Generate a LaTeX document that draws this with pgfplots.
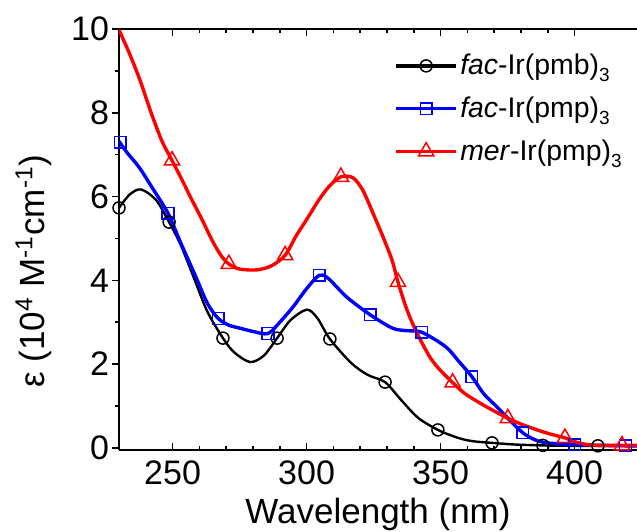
\documentclass[border=0pt]{standalone}
\usepackage{pgfplots}
\pgfplotsset{compat=1.18}
\usepackage{fontspec}
\setmainfont{Liberation Sans}
\newcommand{\sub}[1]{\raisebox{-3.5pt}{\fontsize{9.5}{10}\selectfont #1}}

\pgfplotstableread{
x y
230 5.73
234 6.05
238.2 6.17
243.8 5.92
248.7 5.39
253 4.85
258 4.05
263 3.25
268.8 2.62
273 2.28
278.9 2.05
284 2.2
289 2.62
294 3.05
300.1 3.30
304 3.1
308.7 2.60
316.6 2.03
322.9 1.74
329.3 1.57
335.2 1.15
341.6 0.72
349 0.43
356.5 0.24
362 0.16
369.2 0.12
378 0.08
388.2 0.06
398 0.05
408.7 0.05
423.3 0.05
}\blackline
\pgfplotstableread{
x y
230 5.73
248.7 5.39
268.8 2.62
289 2.62
308.7 2.60
329.3 1.57
349 0.43
369.2 0.12
388.2 0.06
408.7 0.05
}\blackmarks
\pgfplotstableread{
x y
230 7.32
233 7.05
237.5 6.7
242.5 6.2
248.3 5.60
253 4.9
258.7 4.08
263 3.45
267 3.09
271 2.93
275 2.86
280 2.78
285.6 2.73
290 3.0
295 3.37
300 3.8
304.7 4.12
308 4.05
315 3.6
323.7 3.18
332 2.86
337 2.8
343 2.76
352 2.41
357 2.05
361.7 1.70
366 1.3
371 0.98
376 0.65
380.7 0.36
385 0.2
389.7 0.12
400 0.08
410 0.06
419 0.05
423.3 0.05
}\blueline
\pgfplotstableread{
x y
230.4 7.30
248.3 5.60
267 3.09
285.6 2.73
304.7 4.12
323.7 3.18
343 2.76
361.7 1.70
380.7 0.36
400 0.08
419 0.05
}\bluemarks
\pgfplotstableread{
x y
230 9.98
234 9.4
238 8.75
242 8.0
246 7.33
249.8 6.86
253.5 6.4
257.2 5.92
261 5.45
264.7 4.96
268 4.6
271 4.39
275 4.27
281.5 4.25
287 4.35
292 4.6
296 5.05
300 5.45
304.6 5.92
308.5 6.25
312.8 6.47
317.3 6.45
321 6.15
324.8 5.6
328.5 5.04
331.9 4.48
334.1 3.96
337.5 3.29
341.2 2.74
346 2.17
349.8 1.86
354.5 1.56
359 1.3
364.7 1.07
370 0.88
375.1 0.71
380 0.57
386 0.43
391 0.33
396.4 0.24
400 0.15
404.6 0.08
410 0.06
417.7 0.06
423.3 0.06
}\redline
\pgfplotstableread{
x y
249.8 6.86
271 4.39
292 4.6
312.8 6.47
334.1 3.96
354.5 1.56
375.1 0.71
396.4 0.24
417.7 0.06
}\redmarks

\begin{document}
\begin{tikzpicture}
\path[use as bounding box] (0,0) rectangle (318.5pt,265.5pt);
\begin{axis}[
  at={(59.5pt,40.5pt)}, anchor=south west,
  scale only axis, width=259pt, height=210.5pt,
  xmin=230, xmax=423.3, ymin=-0.05, ymax=10,
  axis x line=box, axis y line=left,
  axis line style={-, line width=0.9pt},
  every outer y axis line/.append style={-},
  every inner y axis line/.append style={-},
  xtick={250,300,350,400}, minor x tick num=4,
  ytick={0,2,4,6,8,10}, minor y tick num=1,
  tick align=inside,
  major tick length=3.5pt, minor tick length=2.2pt,
  every tick/.style={black, line width=0.8pt},
  major y tick style={xshift=-3.5pt},
  minor y tick style={xshift=-2.2pt},
  /pgf/number format/assume math mode=true,
  tick label style={font=\fontsize{17}{20}\selectfont},
  xticklabel style={yshift=-1.7pt},
  yticklabel style={xshift=-1.5pt},
  xlabel={Wavelength (nm)},
  ylabel={ε (10\textsuperscript{4} M\textsuperscript{-1}cm\textsuperscript{-1})},
  every axis x label/.style={at={(axis description cs:0.5,-0.1734)}, anchor=base, font=\fontsize{17.5}{21}\selectfont},
  every axis y label/.style={at={(axis description cs:-0.1429,0.425)}, anchor=base, rotate=90, font=\fontsize{17.5}{21}\selectfont},
  legend style={at={(axis description cs:0.531,0.947)}, anchor=north west, draw=none, fill=none,
    inner sep=0pt, font=\fontsize{14.2}{16}\selectfont, row sep=7.2pt,
    nodes={inner sep=1.2pt}},
  legend cell align=left,
  legend image code/.code={\draw[mark repeat=2,mark phase=2] plot coordinates {(0pt,0pt) (15pt,0pt) (30pt,0pt)};},
]
\addlegendimage{black, line width=1.6pt, mark=o, mark size=3pt, mark options={fill=white, line width=0.75pt}}
\addlegendentry{\textit{fac}-Ir(pmb)\sub{3}}
\addlegendimage{blue, line width=1.7pt, mark=square, mark size=2.9pt, mark options={fill=white, line width=0.75pt}}
\addlegendentry{\textit{fac}-Ir(pmp)\sub{3}}
\addlegendimage{red, line width=1.7pt, mark=triangle, mark size=4.4pt, mark options={fill=white, line width=0.75pt}}
\addlegendentry{\textit{mer}-Ir(pmp)\sub{3}}

\addplot[black, line width=1.2pt, smooth, forget plot] table {\blackline};
\addplot[black, only marks, mark=o, mark size=3pt, mark options={fill=white, line width=0.75pt}, forget plot] table {\blackmarks};
\addplot[blue, line width=1.7pt, smooth, forget plot] table {\blueline};
\addplot[blue, only marks, mark=square, mark size=2.9pt, mark options={fill=white, line width=0.75pt}, forget plot] table {\bluemarks};
\addplot[red, line width=1.7pt, smooth, forget plot] table {\redline};
\addplot[red, only marks, mark=triangle, mark size=4.4pt, mark options={fill=white, line width=0.75pt}, forget plot] table {\redmarks};
\end{axis}
\end{tikzpicture}
\end{document}
